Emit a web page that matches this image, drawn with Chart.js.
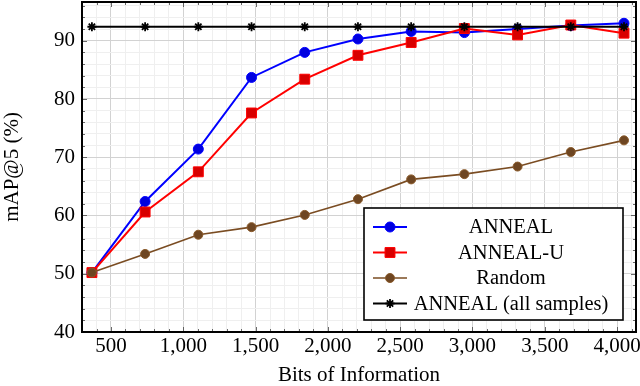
<!DOCTYPE html>
<html>
<head>
<meta charset="utf-8">
<script src="https://cdn.jsdelivr.net/npm/chart.js@4.4.1/dist/chart.umd.min.js"></script>
<style>
html,body{margin:0;padding:0;background:#fff;}
#wrap{width:640px;height:386px;}
</style>
</head>
<body>
<div id="wrap"><canvas id="c" width="640" height="386"></canvas></div>
<script>
// ---- data ----
const bits = [368, 736, 1104, 1472, 1840, 2208, 2576, 2944, 3312, 3680, 4048];
const anneal = [50.2, 62.4, 71.4, 83.7, 88.0, 90.3, 91.6, 91.4, 92.0, 92.6, 93.0];
const annealU = [50.2, 60.6, 67.5, 77.6, 83.4, 87.5, 89.7, 92.1, 91.0, 92.7, 91.3];
const randomSel = [50.2, 53.4, 56.7, 58.0, 60.1, 62.8, 66.2, 67.1, 68.4, 70.9, 72.9];
const annealAll = [92.4, 92.4, 92.4, 92.4, 92.4, 92.4, 92.4, 92.4, 92.4, 92.4, 92.4];
const seriesNames = ['ANNEAL', 'ANNEAL-U', 'Random', 'ANNEAL (all samples)'];
const xMajorTicks = [500, 1000, 1500, 2000, 2500, 3000, 3500, 4000];
const yMajorTicks = [40, 50, 60, 70, 80, 90];

const FONT = '"Liberation Serif", "DejaVu Serif", "Times New Roman", serif';
const FS = 21;

function pts(ys) { return bits.map((x, i) => ({x: x, y: ys[i]})); }

const datasets = [
  {label: seriesNames[0], data: pts(anneal), borderColor: '#0000ff', borderWidth: 2,
   pointStyle: 'circle', pointRadius: 5, pointBackgroundColor: '#0000e0', pointBorderColor: '#0000ff', pointBorderWidth: 1, order: 3},
  {label: seriesNames[1], data: pts(annealU), borderColor: '#ff0000', borderWidth: 2,
   pointStyle: 'rect', pointRadius: 7, pointBackgroundColor: '#d80000', pointBorderColor: '#ff0000', pointBorderWidth: 1, order: 2},
  {label: seriesNames[2], data: pts(randomSel), borderColor: '#7a4c22', borderWidth: 1.6,
   pointStyle: 'circle', pointRadius: 4.5, pointBackgroundColor: '#6e4622', pointBorderColor: '#8a5a2a', pointBorderWidth: 1, order: 1},
  {label: seriesNames[3], data: pts(annealAll), borderColor: '#000000', borderWidth: 2,
   pointStyle: 'star', pointRadius: 4.5, pointBackgroundColor: '#000000', pointBorderColor: '#000000', pointBorderWidth: 1.8, order: 0}
];
datasets.forEach(d => { d.tension = 0; d.fill = false; d.backgroundColor = d.pointBackgroundColor; });

function range(a, b, s) { const r = []; for (let v = a; v <= b + 1e-9; v += s) r.push(v); return r; }
function zeroPad(s) {
  s.paddingTop = 0; s.paddingBottom = 0; s.paddingLeft = 0; s.paddingRight = 0;
}

const framePlugin = {
  id: 'frame',
  afterDraw(chart) {
    const ctx = chart.ctx, a = chart.chartArea;
    const xs = chart.scales.x, ys = chart.scales.y;
    ctx.save();
    // inner tick marks
    ctx.strokeStyle = '#444';
    ctx.lineWidth = 0.8;
    ctx.beginPath();
    xs.ticks.forEach(t => {
      const px = Math.round(xs.getPixelForValue(t.value)) + 0.5;
      const L = (t.value % 500 === 0) ? 5 : 3;
      ctx.moveTo(px, a.bottom); ctx.lineTo(px, a.bottom - L);
      ctx.moveTo(px, a.top); ctx.lineTo(px, a.top + L);
    });
    ys.ticks.forEach(t => {
      const py = Math.round(ys.getPixelForValue(t.value)) + 0.5;
      const L = (t.value % 10 === 0) ? 5 : 3;
      ctx.moveTo(a.left, py); ctx.lineTo(a.left + L, py);
      ctx.moveTo(a.right, py); ctx.lineTo(a.right - L, py);
    });
    ctx.stroke();
    // frame
    ctx.strokeStyle = '#000';
    ctx.lineWidth = 2;
    ctx.strokeRect(a.left, a.top, a.right - a.left, a.bottom - a.top);

    // legend
    const bx = 364, by = 208, bw = 259, bh = 112;
    ctx.fillStyle = '#fff';
    ctx.fillRect(bx, by, bw, bh);
    ctx.strokeStyle = '#000';
    ctx.lineWidth = 1.6;
    ctx.strokeRect(bx, by, bw, bh);
    const rows = [227, 252.5, 278, 303.5];
    chart.data.datasets.forEach((d, i) => {
      const y = rows[i];
      ctx.strokeStyle = d.borderColor;
      ctx.lineWidth = d.borderWidth;
      ctx.beginPath(); ctx.moveTo(373, y); ctx.lineTo(407, y); ctx.stroke();
      ctx.fillStyle = d.pointBackgroundColor;
      ctx.strokeStyle = d.pointBorderColor;
      ctx.lineWidth = d.pointBorderWidth;
      if (Chart.helpers && Chart.helpers.drawPoint) {
        Chart.helpers.drawPoint(ctx, {pointStyle: d.pointStyle, radius: d.pointRadius, rotation: 0, borderWidth: d.pointBorderWidth}, 390, y);
      }
      ctx.fillStyle = '#000';
      ctx.font = '20.5px ' + FONT;
      ctx.textAlign = 'center';
      ctx.textBaseline = 'middle';
      ctx.fillText(d.label, 511, y + 1);
    });
    ctx.restore();
  }
};

new Chart(document.getElementById('c'), {
  type: 'line',
  data: {datasets: datasets},
  options: {
    responsive: false,
    animation: false,
    layout: {autoPadding: false, padding: {top: 2, right: 4, left: 0, bottom: 0}},
    plugins: {legend: {display: false}, tooltip: {enabled: false}, title: {display: false}},
    scales: {
      x: {
        type: 'linear', min: 299.5, max: 4131,
        afterFit(s) { s.height = 54; zeroPad(s); },
        afterBuildTicks(s) { s.ticks = range(300, 4100, 100).map(v => ({value: v})); },
        grid: {drawTicks: false, lineWidth: 1,
               color: c => (c.tick && c.tick.value % 500 === 0) ? '#d2d2d2' : '#efefef'},
        border: {display: false},
        ticks: {autoSkip: false, maxRotation: 0, padding: 2, color: '#000',
                font: {family: FONT, size: FS},
                callback: v => xMajorTicks.includes(v) ? v.toLocaleString('en-US') : ''},
        title: {display: true, text: 'Bits of Information', color: '#000',
                font: {family: FONT, size: FS}, padding: {top: 0, bottom: -2}}
      },
      y: {
        type: 'linear', min: 40, max: 96.65,
        afterFit(s) { s.width = 82; zeroPad(s); },
        afterBuildTicks(s) { s.ticks = range(40, 96, 2).map(v => ({value: v})); },
        grid: {drawTicks: false, lineWidth: 1,
               color: c => (c.tick && c.tick.value % 10 === 0) ? '#d2d2d2' : '#efefef'},
        border: {display: false},
        ticks: {autoSkip: false, padding: 7, color: '#000',
                font: {family: FONT, size: FS},
                callback: v => yMajorTicks.includes(v) ? String(v) : ''},
        title: {display: true, text: 'mAP@5 (%)', color: '#000',
                font: {family: FONT, size: FS}, padding: {top: 0, bottom: 0}}
      }
    }
  },
  plugins: [framePlugin]
});
</script>
</body>
</html>
